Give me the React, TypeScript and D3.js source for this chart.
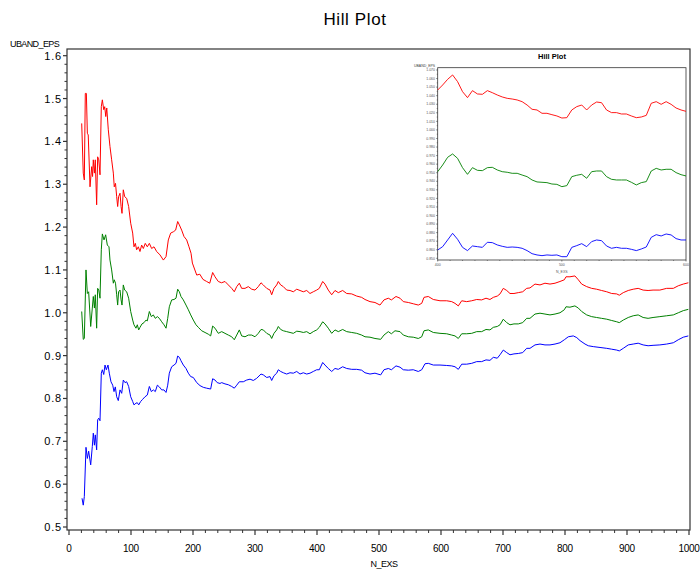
import React from "react";
import * as d3 from "d3";

// ---------- Main chart data ----------
const redN = [20.5,23,24.7,26.3,28,29.6,31,33.9,36.6,38,39.2,41,42.4,44.6,46.2,48,50,52.1,53.8,56,57.6,59.3,60.9,63.4,66.1,68.8,71.5,73,75,76.9,78.5,80,82.3,84,85.5,87.6,89.8,93,96.2,99.5,102.7,104.8,107,109.1,111.8,114.5,117.2,119.9,123,126.3,129.6,133.3,137.1,141.4,146.8,152.2,156.5,160.2,164,168.3,172,175.3,178,181.7,185.5,189.8,193.5,196.8,199,206,211,216,222,227,231.7,235.5,240.8,246,251.6,257,262.4,266.6,270.5,274.7,278.5,283.9,289.2,294.7,300,305.3,309.7,313.4,318.9,324.2,326.9,330.6,335,337.6,341.4,345.7,351.1,356.5,361.8,367.3,372.6,377.9,383.4,388.7,394,399.5,403.7,409.2,412.9,418.2,423.7,429,434.4,441.4,447.9,456,464,472,477.4,485.5,493.5,501.6,508,515,520,527.4,533.9,539.2,547.3,555.3,563.4,568.9,572.6,579.5,587.6,598.4,609.2,617.3,622.6,627.9,633.4,641.4,649.5,657.6,665.6,672.6,679,684.4,690.8,695.2,700.5,706,711.3,717.7,724.7,731.8,738.2,743.5,751.6,759.7,767.7,775.8,783.9,791.9,798.9,801.6,808,816,821.5,826.9,835,843,851,859,867.3,875.3,883.4,887.6,894,902,910,918,926,934,942,953,964,974.7,982.7,990.8,998.9];
const redV = [1.442,1.326,1.310,1.512,1.512,1.419,1.415,1.294,1.341,1.318,1.357,1.326,1.357,1.252,1.364,1.357,1.322,1.481,1.497,1.474,1.481,1.458,1.478,1.427,1.388,1.357,1.326,1.294,1.302,1.271,1.248,1.271,1.279,1.248,1.232,1.287,1.271,1.267,1.248,1.209,1.186,1.154,1.162,1.147,1.154,1.143,1.158,1.150,1.162,1.154,1.162,1.150,1.154,1.143,1.135,1.123,1.131,1.170,1.186,1.189,1.193,1.213,1.205,1.193,1.178,1.170,1.154,1.139,1.116,1.088,1.090,1.078,1.073,1.069,1.094,1.084,1.073,1.070,1.073,1.065,1.057,1.049,1.061,1.069,1.057,1.057,1.061,1.055,1.053,1.061,1.070,1.065,1.057,1.053,1.042,1.057,1.065,1.073,1.065,1.061,1.053,1.052,1.049,1.055,1.052,1.049,1.052,1.045,1.049,1.053,1.057,1.073,1.067,1.053,1.042,1.052,1.047,1.052,1.045,1.044,1.039,1.036,1.031,1.026,1.024,1.018,1.030,1.034,1.030,1.038,1.034,1.026,1.024,1.021,1.018,1.022,1.036,1.038,1.031,1.028,1.028,1.026,1.022,1.016,1.028,1.026,1.028,1.031,1.030,1.034,1.031,1.036,1.039,1.044,1.057,1.052,1.045,1.045,1.047,1.049,1.057,1.058,1.067,1.065,1.069,1.067,1.069,1.073,1.077,1.084,1.084,1.086,1.077,1.067,1.061,1.057,1.055,1.052,1.049,1.045,1.044,1.041,1.047,1.052,1.055,1.057,1.053,1.052,1.053,1.053,1.057,1.057,1.063,1.067,1.070];

const greenN = [20.5,23,24.7,27.4,29.6,31.7,35,37.6,39.2,41,42.4,44.6,46.2,48,50,52.1,53.8,56.5,59.1,61.8,64.5,66.1,68.8,71.5,73,75,76.9,78.5,80,82.3,84,85.5,87.6,89.8,93,96.2,99.5,102.7,104.8,108,110.2,112.4,114.5,117.7,121,124.2,126.3,129.6,132.8,136,139.2,142.5,145.7,149.5,153.2,156.5,159.2,161.8,165.6,169.4,172.6,175.3,178,180.6,184.4,188.7,192.5,196.3,200.5,204.8,208.6,214,219.4,224.7,228.5,231.7,235.5,240.8,246.3,251.6,257,262.4,266.6,270.5,274.7,278.5,283.9,289.2,294.7,300,305.3,309.7,313.4,318.9,324.2,326.9,330.6,335,337.6,341.4,345.7,351.1,356.5,361.8,367.3,372.6,377.9,383.4,388.7,394,399.5,403.7,409.2,412.9,418.2,423.7,429,434.4,441.4,447.9,456,464,472,477.4,485.5,493.5,502.7,508,515,520,525.8,533.9,539.2,547.3,555.3,563.4,568.9,572.6,579.5,587.6,598.4,609.2,617.3,622.6,627.9,633.4,641.4,649.5,657.6,665.6,672.6,679,684.4,690.8,695.2,700.5,706,711.3,717.7,724.7,731.8,738.2,743.5,751.6,759.7,767.7,775.8,783.9,791.9,798.9,801.6,808,816,821.5,826.9,835,843,851,859,867.3,875.3,883.4,887.6,894,902,910,918,926,934,942,953,964,974.7,982.7,990.8,998.9];
const greenV = [1.003,0.938,0.940,1.100,1.045,1.049,0.968,1.011,1.038,1.011,1.042,0.964,1.057,1.053,1.034,1.147,1.184,1.170,1.182,1.158,1.154,1.123,1.100,1.069,1.077,1.069,1.042,1.018,1.049,1.053,1.030,1.018,1.065,1.053,1.049,1.034,1.003,0.983,0.972,0.964,0.972,0.960,0.966,0.974,0.977,0.983,0.981,1.003,0.991,0.995,0.987,0.991,0.987,0.979,0.972,0.964,0.987,1.014,1.030,1.031,1.034,1.055,1.049,1.038,1.030,1.018,1.007,0.995,0.983,0.972,0.966,0.958,0.954,0.950,0.946,0.969,0.964,0.952,0.956,0.952,0.948,0.944,0.937,0.948,0.960,0.946,0.944,0.948,0.948,0.944,0.952,0.961,0.960,0.952,0.948,0.940,0.952,0.960,0.968,0.961,0.958,0.956,0.954,0.952,0.957,0.956,0.954,0.956,0.951,0.956,0.960,0.966,0.979,0.974,0.964,0.952,0.960,0.956,0.961,0.956,0.954,0.952,0.948,0.944,0.943,0.940,0.938,0.948,0.956,0.951,0.958,0.956,0.948,0.944,0.943,0.940,0.944,0.958,0.960,0.954,0.952,0.951,0.948,0.946,0.940,0.951,0.951,0.952,0.956,0.956,0.961,0.960,0.966,0.968,0.972,0.985,0.977,0.972,0.974,0.974,0.977,0.987,0.987,0.997,0.999,0.997,0.995,0.997,1.000,1.007,1.014,1.013,1.016,1.011,1.003,0.995,0.991,0.989,0.987,0.985,0.982,0.979,0.977,0.983,0.989,0.993,0.995,0.989,0.987,0.989,0.991,0.993,0.995,1.000,1.005,1.008];

const blueN = [21,23,24.7,27.4,29.6,31.7,35,37.6,39.2,41,42.4,44.6,46.2,48,50,52.1,53.8,56,58.1,60.2,62.9,65,67.7,70.5,72.6,74.7,76.9,79.5,82.3,85,87.6,90.3,93,96.2,99.5,102.7,104.8,108,110.2,112.4,115.6,118.8,122.6,126.3,129.6,132.8,136,139.2,142.5,145.7,149.5,153.2,156.5,159.2,161.8,165.6,169.4,172.6,175.3,178,180.6,184.4,188.7,192.5,196.3,200.5,206,211.3,216.6,222,228.5,231.7,235.5,239,243.5,246.3,251.6,257,262.4,266.6,270.5,274.7,281.1,286.6,292,297.3,302.7,309.7,313.4,318.9,324.2,326.9,330.6,335,337.6,341.4,345.7,351.1,356.5,361.8,367.3,372.6,377.9,383.4,388.7,394,399.5,403.7,409.2,412.9,418.2,423.7,429,434.4,441.4,447.9,456,464,472,477.4,485.5,493.5,502.7,508,515,520,527.4,533.9,539.2,547.3,555.3,563.4,568.9,574.2,579.5,587.6,598.4,609.2,617.3,622.6,627.9,633.4,641.4,649.5,657.6,665.6,672.6,679,684.4,690.8,695.2,700.5,706,711.3,717.7,724.7,731.8,738.2,743.5,751.6,759.7,767.7,775.8,783.9,791.9,798.9,805.3,813.4,819,824.2,832.3,837.6,845.6,856.5,867.3,875.3,883.4,887.6,894,902,910,918,926,934,942,953,964,974.7,982.7,990.8,998.9];
const blueV = [0.567,0.551,0.571,0.686,0.660,0.677,0.645,0.688,0.719,0.691,0.715,0.680,0.750,0.754,0.748,0.859,0.867,0.856,0.878,0.867,0.878,0.859,0.839,0.831,0.816,0.827,0.804,0.795,0.820,0.812,0.843,0.837,0.839,0.828,0.804,0.793,0.785,0.789,0.790,0.785,0.793,0.798,0.804,0.808,0.828,0.816,0.820,0.816,0.831,0.827,0.820,0.820,0.814,0.831,0.859,0.874,0.878,0.882,0.899,0.896,0.888,0.878,0.870,0.859,0.851,0.849,0.837,0.830,0.826,0.824,0.822,0.846,0.843,0.837,0.835,0.837,0.834,0.832,0.828,0.824,0.831,0.839,0.839,0.843,0.845,0.842,0.847,0.857,0.855,0.849,0.851,0.842,0.853,0.859,0.867,0.863,0.860,0.857,0.860,0.859,0.863,0.857,0.860,0.857,0.859,0.863,0.867,0.867,0.884,0.878,0.870,0.863,0.870,0.868,0.874,0.870,0.868,0.868,0.866,0.860,0.857,0.859,0.855,0.867,0.870,0.867,0.876,0.873,0.867,0.866,0.867,0.863,0.867,0.881,0.882,0.878,0.878,0.877,0.876,0.874,0.868,0.880,0.880,0.882,0.886,0.886,0.890,0.889,0.896,0.894,0.902,0.913,0.907,0.902,0.904,0.905,0.907,0.917,0.917,0.925,0.927,0.925,0.925,0.927,0.930,0.937,0.944,0.946,0.942,0.935,0.927,0.923,0.921,0.919,0.917,0.915,0.913,0.911,0.917,0.925,0.927,0.929,0.925,0.923,0.924,0.925,0.927,0.930,0.937,0.943,0.946];

const yTicks = [0.5,0.6,0.7,0.8,0.9,1.0,1.1,1.2,1.3,1.4,1.5,1.6];
const xTicks = [0,100,200,300,400,500,600,700,800,900,1000];

// ---------- Inset data ----------
const insetN = [400,404,408,412,416,420,424,428,432,436,440,444,448,452,456,460,464,468,472,476,480,484,488,492,496,500,504,508,512,516,520,524,528,532,536,540,544,548,552,556,560,564,568,572,576,580,584,588,592,596,600];
const insetRed = [1.0466,1.0525,1.0591,1.0642,1.0564,1.0447,1.0377,1.0459,1.0420,1.0416,1.0459,1.0435,1.0408,1.0385,1.0369,1.0361,1.0350,1.0330,1.0291,1.0241,1.0233,1.0194,1.0194,1.0178,1.0163,1.0139,1.0143,1.0233,1.0272,1.0291,1.0233,1.0291,1.0326,1.0318,1.0233,1.0202,1.0202,1.0186,1.0186,1.0163,1.0143,1.0151,1.0170,1.0311,1.0330,1.0299,1.0330,1.0299,1.0256,1.0233,1.0217];
const insetGreen = [0.9512,0.9590,0.9680,0.9719,0.9668,0.9559,0.9481,0.9559,0.9528,0.9524,0.9559,0.9563,0.9532,0.9512,0.9505,0.9493,0.9493,0.9473,0.9454,0.9415,0.9392,0.9388,0.9384,0.9368,0.9364,0.9337,0.9349,0.9454,0.9470,0.9481,0.9435,0.9512,0.9520,0.9520,0.9454,0.9423,0.9415,0.9415,0.9415,0.9388,0.9357,0.9384,0.9396,0.9520,0.9551,0.9532,0.9540,0.9540,0.9501,0.9477,0.9462];
const insetBlue = [0.8597,0.8636,0.8714,0.8792,0.8722,0.8628,0.8590,0.8644,0.8636,0.8628,0.8687,0.8683,0.8656,0.8640,0.8628,0.8632,0.8628,0.8617,0.8590,0.8554,0.8539,0.8531,0.8539,0.8535,0.8539,0.8519,0.8519,0.8628,0.8648,0.8671,0.8636,0.8695,0.8714,0.8706,0.8644,0.8617,0.8628,0.8617,0.8617,0.8605,0.8590,0.8609,0.8632,0.8745,0.8776,0.8761,0.8784,0.8773,0.8730,0.8714,0.8714];
const insetYTicks = [0.85,0.86,0.87,0.88,0.89,0.90,0.91,0.92,0.93,0.94,0.95,0.96,0.97,0.98,0.99,1.00,1.01,1.02,1.03,1.04,1.05,1.06,1.07];
const insetXTicks = [400,500,600];

const FONT = "'Liberation Sans', Arial, Helvetica, sans-serif";
const AX = "#333";

function mkLine(N: number[], V: number[], sx: any, sy: any) {
  return d3.line()(N.map((n, i) => [sx(n), sy(V[i])] as [number, number])) || "";
}

export default function App() {
  // main scales
  const x = d3.scaleLinear().domain([0, 1000]).range([69, 689]);
  const y = d3.scaleLinear().domain([0.5, 1.6]).range([527, 55.7]);
  const frame = { l: 67, t: 49, r: 690, b: 530 };
  const xMinor = d3.range(0, 1001, 20).filter((v) => v % 100 !== 0);
  const yMinor = d3.range(0.5, 1.6001, 0.02).filter((v) => Math.abs(Math.round(v * 10) - v * 10) > 1e-6);

  // inset scales
  const ix = d3.scaleLinear().domain([400, 600]).range([437.7, 686]);
  const iy = d3.scaleLinear().domain([0.85, 1.07]).range([258.3, 70]);
  const iframe = { l: 437.7, t: 67.7, r: 686, b: 260 };
  const ixMinor = d3.range(400, 601, 10).filter((v) => v % 100 !== 0);
  const iyMinor = d3.range(0.855, 1.07, 0.01);
  const fmt3 = d3.format(".3f");

  return (
    <svg width={700} height={569} style={{ position: "fixed", left: 0, top: 0, background: "#fff" }} fontFamily={FONT}>
      <rect x={0} y={0} width={700} height={569} fill="#fff" />
      <text x={355} y={25} textAnchor="middle" fontSize={17} letterSpacing={0.6} fill="#000">Hill  Plot</text>

      {/* main frame */}
      <rect x={frame.l} y={frame.t} width={frame.r - frame.l} height={frame.b - frame.t} fill="none" stroke={AX} strokeWidth={1.2} />

      {/* y axis */}
      <text x={10} y={47} fontSize={9} letterSpacing={-0.6} fill="#000">UBAND_EPS</text>
      {yTicks.map((t) => (
        <g key={"yt" + t}>
          <line x1={frame.l - 4} x2={frame.l} y1={y(t)} y2={y(t)} stroke={AX} strokeWidth={1.2} />
          <text x={62} y={y(t) + 4} textAnchor="end" fontSize={11} letterSpacing={0.8} fill="#000">{t.toFixed(1)}</text>
        </g>
      ))}
      {yMinor.map((t, i) => (
        <line key={"ym" + i} x1={frame.l - 2.5} x2={frame.l} y1={y(t)} y2={y(t)} stroke={AX} strokeWidth={1} />
      ))}

      {/* x axis */}
      {xTicks.map((t) => (
        <g key={"xt" + t}>
          <line x1={x(t)} x2={x(t)} y1={frame.b} y2={frame.b + 5} stroke={AX} strokeWidth={1.2} />
          <text x={x(t)} y={552} textAnchor="middle" fontSize={10} letterSpacing={-0.3} fill="#000">{t}</text>
        </g>
      ))}
      {xMinor.map((t) => (
        <line key={"xm" + t} x1={x(t)} x2={x(t)} y1={frame.b} y2={frame.b + 3} stroke={AX} strokeWidth={1} />
      ))}
      <text x={384} y={567} textAnchor="middle" fontSize={9} letterSpacing={-0.5} fill="#000">N_EXS</text>

      {/* main lines */}
      <path d={mkLine(redN, redV, x, y)} fill="none" stroke="#ff0000" strokeWidth={1} />
      <path d={mkLine(greenN, greenV, x, y)} fill="none" stroke="#008000" strokeWidth={1} />
      <path d={mkLine(blueN, blueV, x, y)} fill="none" stroke="#0000ff" strokeWidth={1} />

      {/* inset (no outer box) */}
      <text x={552} y={59} textAnchor="middle" fontSize={7.5} fontWeight="bold" fill="#000">Hill Plot</text>
      <rect x={iframe.l} y={iframe.t} width={iframe.r - iframe.l} height={iframe.b - iframe.t} fill="#fff" stroke={AX} strokeWidth={0.8} />
      <text x={414} y={67} fontSize={3.5} fill="#444">UBAND_EPS</text>
      {insetYTicks.map((t) => (
        <g key={"iyt" + t}>
          <line x1={iframe.l - 1.5} x2={iframe.l} y1={iy(t)} y2={iy(t)} stroke={AX} strokeWidth={0.6} />
          <text x={435} y={iy(t) + 1.2} textAnchor="end" fontSize={3.5} fill="#555">{fmt3(t)}</text>
        </g>
      ))}
      {iyMinor.map((t, i) => (
        <line key={"iym" + i} x1={iframe.l - 1} x2={iframe.l} y1={iy(t)} y2={iy(t)} stroke={AX} strokeWidth={0.5} />
      ))}
      {insetXTicks.map((t) => (
        <g key={"ixt" + t}>
          <line x1={ix(t)} x2={ix(t)} y1={iframe.b} y2={iframe.b + 1.5} stroke={AX} strokeWidth={0.6} />
          <text x={ix(t)} y={266} textAnchor="middle" fontSize={3.5} fill="#555">{t}</text>
        </g>
      ))}
      {ixMinor.map((t) => (
        <line key={"ixm" + t} x1={ix(t)} x2={ix(t)} y1={iframe.b} y2={iframe.b + 1} stroke={AX} strokeWidth={0.5} />
      ))}
      <text x={ix(500)} y={273} textAnchor="middle" fontSize={3.5} fill="#555">N_EXS</text>
      <path d={mkLine(insetN, insetRed, ix, iy)} fill="none" stroke="#ff0000" strokeWidth={0.9} />
      <path d={mkLine(insetN, insetGreen, ix, iy)} fill="none" stroke="#008000" strokeWidth={0.9} />
      <path d={mkLine(insetN, insetBlue, ix, iy)} fill="none" stroke="#0000ff" strokeWidth={0.9} />
    </svg>
  );
}
